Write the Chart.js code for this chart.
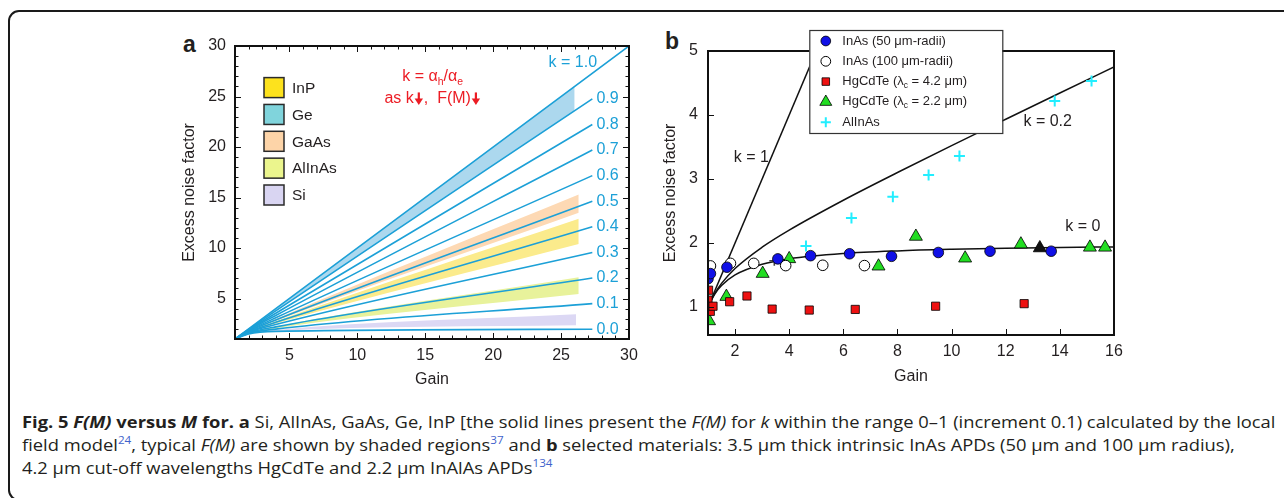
<!DOCTYPE html>
<html lang="en">
<head>
<meta charset="utf-8">
<script src="https://cdn.jsdelivr.net/npm/chart.js@4.4.1/dist/chart.umd.min.js"></script>
<style>
  html, body { margin: 0; padding: 0; background: #fff; }
  body { width: 1284px; height: 498px; position: relative; overflow: hidden;
         font-family: "Liberation Sans", Arial, sans-serif; color: #231f20; }
  #cadre { position: absolute; left: 8px; top: 10px; width: 1400px; height: 487px;
           border: 2.5px solid #1a1a1a; border-radius: 11px; }
  .bloc { position: absolute; }
  #bloc-a { left: 150px; top: 20px; width: 500px; height: 380px; }
  #bloc-b { left: 650px; top: 20px; width: 490px; height: 380px; }
  .lettre { position: absolute; font: bold 23px "Liberation Sans", Arial, sans-serif; line-height: 1; }
  #legende-fig { position: absolute; left: 22px; top: 410px; font-family: "Open Sans", sans-serif;
                 font-size: 16.5px; line-height: 23px; color: #231f20; }
  .ligne { white-space: nowrap; width: max-content; transform-origin: left center; }
  .ligne sup { color: #3f63cc; font-size: 10.5px; line-height: 0; vertical-align: 7px; }
</style>
</head>
<body>
<div id="cadre"></div>
<div class="lettre" style="left:183px; top:33px">a</div>
<div class="lettre" style="left:665px; top:30px">b</div>
<div class="bloc" id="bloc-a"><canvas id="graphique-a" width="500" height="380"></canvas></div>
<div class="bloc" id="bloc-b"><canvas id="graphique-b" width="490" height="380"></canvas></div>

<div id="legende-fig">
  <div class="ligne"><b>Fig. 5 <i>F(M)</i> versus <i>M</i> for. a</b> Si, AlInAs, GaAs, Ge, InP [the solid lines present the <i>F(M)</i> for <i>k</i> within the range 0–1 (increment 0.1) calculated by the local</div>
  <div class="ligne">field model<sup>24</sup>, typical <i>F(M)</i> are shown by shaded regions<sup>37</sup> and <b>b</b> selected materials: 3.5 μm thick intrinsic InAs APDs (50 μm and 100 μm radius),</div>
  <div class="ligne">4.2 μm cut-off wavelengths HgCdTe and 2.2 μm InAlAs APDs<sup>134</sup></div>
</div>

<script>
/* ─── Données panneau a : F(M) du modèle local, k = 0 … 1 ─────────── */
const K_VALEURS  = [0.0, 0.1, 0.2, 0.3, 0.4, 0.5, 0.6, 0.7, 0.8, 0.9, 1.0];
const GAIN_A     = [1, 2, 4, 27.3];          // k = 1.0 va jusqu'à 30
const GAIN_A_K1  = [1, 2, 4, 30];
const F_A = [
    [1, 1.50, 1.75, 1.96],
    [1, 1.55, 1.98, 4.50],
    [1, 1.60, 2.20, 7.03],
    [1, 1.65, 2.43, 9.56],
    [1, 1.70, 2.65, 12.10],
    [1, 1.75, 2.88, 14.63],
    [1, 1.80, 3.10, 17.17],
    [1, 1.85, 3.33, 19.70],
    [1, 1.90, 3.55, 22.23],
    [1, 1.95, 3.78, 24.77],
    [1, 2.00, 4.00, 30.00],
];
const TICKS_A = [5, 10, 15, 20, 25, 30];

/* Zones grisées (matériaux) : bord haut / bord bas aux gains [1, 2, 4, fin] */
const MATERIAUX_A   = ['InP', 'Ge', 'GaAs', 'AlInAs', 'Si'];
const BANDE_FIN     = [26.3, 26.0, 26.3, 26.3, 26.1];
const BANDE_HAUT    = [
    [1, 1.73, 2.76, 12.9],
    [1, 2.00, 4.00, 26.0],
    [1, 1.78, 2.99, 15.3],
    [1, 1.61, 2.23, 7.1],
    [1, 1.53, 1.89, 3.45],
];
const BANDE_BAS     = [
    [1, 1.67, 2.53, 10.4],
    [1, 1.95, 3.78, 23.6],
    [1, 1.74, 2.81, 13.5],
    [1, 1.57, 2.07, 5.45],
    [1, 1.51, 1.79, 2.35],
];
const COULEUR_BANDE   = ['#fbeb8c', '#acd8ee', '#fdd9b4', '#e8f29b', '#dcd8f4'];
const COULEUR_CARRE   = ['#fde21d', '#80d4dc', '#fdd4a8', '#ebf58d', '#d9d5f2'];

/* ─── Données panneau b : mesures ────────────────────────────────── */
const INAS50_X  = [1.0, 1.09, 1.70, 3.58, 4.79, 6.23, 7.78, 9.51, 11.42, 13.68];
const INAS50_Y  = [1.44, 1.52, 1.62, 1.75, 1.80, 1.83, 1.79, 1.85, 1.87, 1.87];
const INAS100_X = [1.09, 1.83, 2.69, 3.87, 5.24, 6.78];
const INAS100_Y = [1.64, 1.68, 1.68, 1.645, 1.65, 1.645];
const HGCDTE42_X = [1.02, 1.0, 1.085, 1.185, 1.80, 2.44, 3.37, 4.74, 6.44, 9.41, 12.68];
const HGCDTE42_Y = [1.26, 1.105, 0.93, 1.01, 1.08, 1.17, 0.965, 0.95, 0.96, 1.01, 1.05];
const HGCDTE22_X = [1.04, 1.68, 3.02, 4.0, 7.30, 8.68, 10.5, 12.56, 15.11, 15.67];
const HGCDTE22_Y = [0.78, 1.16, 1.52, 1.75, 1.635, 2.10, 1.76, 1.98, 1.93, 1.93];
const ALINAS_X  = [4.62, 6.30, 7.83, 9.15, 10.29, 13.81, 15.17];
const ALINAS_Y  = [1.95, 2.39, 2.72, 3.06, 3.36, 4.22, 4.53];
const NOIR_X    = [13.26];
const NOIR_Y    = [1.92];
const CROIX_SOMBRE_X = [3.45];
const CROIX_SOMBRE_Y = [1.72];

/* Courbes théoriques k = 1, 0.2, 0 */
const GAIN_K1   = [1, 6];
const F_K1      = [1, 6];
const GAIN_B    = [1, 1.25, 1.5, 2, 3, 4, 6, 8, 10, 12, 14, 16];
const F_K02     = [1, 1.21, 1.367, 1.6, 1.933, 2.2, 2.667, 3.1, 3.52, 3.933, 4.343, 4.75];
const F_K0      = [1, 1.2, 1.333, 1.5, 1.667, 1.75, 1.833, 1.875, 1.9, 1.917, 1.929, 1.9375];
const TICKS_BX  = [2, 4, 6, 8, 10, 12, 14, 16];
const TICKS_BY  = [1, 2, 3, 4, 5];

/* ─── Utilitaires ────────────────────────────────────────────────── */
const POLICE = '"Liberation Sans", Arial, sans-serif';
const NOIR_TXT = '#231f20';
const BLEU_K = '#1ca0d7';
const ROUGE = '#ec1c24';
Chart.defaults.font.family = POLICE;
Chart.defaults.color = NOIR_TXT;

const pts = (xs, ys) => xs.map((x, i) => ({ x, y: ys[i] }));

function morceaux(txt) {
    const out = [];
    let cur = '';
    for (let i = 0; i < txt.length; i++) {
        if (txt[i] === '_') {
            if (cur) out.push({ t: cur, sub: false });
            cur = '';
            out.push({ t: txt[i + 1], sub: true });
            i++;
        } else cur += txt[i];
    }
    if (cur) out.push({ t: cur, sub: false });
    return out;
}

// texte avec indices ("α_h" → α + h en indice)
function texteIndice(ctx, txt, x, y, taille, align) {
    const parts = morceaux(txt);
    const fN = `${taille}px ${POLICE}`, fS = `${taille * 0.65}px ${POLICE}`;
    let w = 0;
    parts.forEach(p => { ctx.font = p.sub ? fS : fN; p.w = ctx.measureText(p.t).width; w += p.w; });
    let cx = align === 'center' ? x - w / 2 : align === 'right' ? x - w : x;
    ctx.textAlign = 'left';
    ctx.textBaseline = 'middle';
    parts.forEach(p => {
        ctx.font = p.sub ? fS : fN;
        ctx.fillText(p.t, cx, y + (p.sub ? taille * 0.32 : 0));
        cx += p.w;
    });
}

function trait(ctx, x1, y1, x2, y2) {
    ctx.beginPath(); ctx.moveTo(x1, y1); ctx.lineTo(x2, y2); ctx.stroke();
}

// flèche épaisse vers le bas, haut à (x, y)
function fleche(ctx, x, y) {
    ctx.save();
    ctx.lineWidth = 2.2;
    trait(ctx, x, y, x + 0, y + 8);
    ctx.beginPath();
    ctx.moveTo(x - 4.2, y + 6);
    ctx.lineTo(x + 4.2, y + 6);
    ctx.lineTo(x, y + 12.5);
    ctx.closePath();
    ctx.fill();
    ctx.restore();
}

/* ─── Panneau a ──────────────────────────────────────────────────── */
const datasetsA = [];
K_VALEURS.forEach((k, i) => {
    const gx = k === 1.0 ? GAIN_A_K1 : GAIN_A;
    datasetsA.push({
        label: 'k = ' + k.toFixed(1),
        data: pts(gx, F_A[i]),
        borderColor: BLEU_K, borderWidth: 1.6,
        pointRadius: 0, fill: false,
        cubicInterpolationMode: 'monotone',
        order: 1,
    });
});
MATERIAUX_A.forEach((nom, i) => {
    const gx = [1, 2, 4, BANDE_FIN[i]];
    datasetsA.push({
        label: nom,
        data: pts(gx, BANDE_HAUT[i]),
        backgroundColor: COULEUR_BANDE[i], borderWidth: 0,
        pointRadius: 0, fill: '+1', cubicInterpolationMode: 'monotone', order: 2,
    });
    datasetsA.push({
        label: nom + ' (bas)',
        data: pts(gx, BANDE_BAS[i]),
        borderWidth: 0, pointRadius: 0, fill: false,
        cubicInterpolationMode: 'monotone', order: 2,
    });
});

const decorA = {
    id: 'decorA',
    afterDatasetsDraw(chart) {
        const { ctx, chartArea: ca, scales: { x, y } } = chart;
        ctx.save();
        ctx.strokeStyle = '#111';
        ctx.lineWidth = 1;
        for (let v = 2; v < 30; v++) {
            const L = v % 5 === 0 ? 6 : 3.5;
            const px = Math.round(x.getPixelForValue(v)) + 0.5;
            trait(ctx, px, ca.bottom, px, ca.bottom - L);
            trait(ctx, px, ca.top, px, ca.top + L);
            const py = Math.round(y.getPixelForValue(v)) + 0.5;
            trait(ctx, ca.left, py, ca.left + L, py);
            trait(ctx, ca.right, py, ca.right - L, py);
        }
        ctx.lineWidth = 2;
        ctx.strokeRect(ca.left, ca.top, ca.right - ca.left, ca.bottom - ca.top);

        // étiquettes k en bout de ligne
        ctx.fillStyle = BLEU_K;
        ctx.font = `16px ${POLICE}`;
        ctx.textBaseline = 'middle';
        K_VALEURS.forEach((k, i) => {
            if (k === 1.0) return;
            ctx.textAlign = 'left';
            ctx.fillText(k.toFixed(1), x.getPixelForValue(27.6), y.getPixelForValue(F_A[i][3]));
        });
        ctx.textAlign = 'right';
        ctx.fillText('k = 1.0', x.getPixelForValue(27.65), y.getPixelForValue(28.32));

        // annotation rouge
        ctx.fillStyle = ROUGE;
        ctx.strokeStyle = ROUGE;
        const cx = x.getPixelForValue(15.55);
        texteIndice(ctx, 'k = α_h/α_e', cx, y.getPixelForValue(26.94), 16, 'center');
        ctx.font = `16px ${POLICE}`;
        const t1 = 'as k', t2 = ',  F(M)';
        const w1 = ctx.measureText(t1).width, w2 = ctx.measureText(t2).width;
        const wf = 10;
        let gx = cx - (w1 + w2 + 2 * wf) / 2;
        const yl = y.getPixelForValue(24.81);
        ctx.textAlign = 'left';
        ctx.textBaseline = 'middle';
        ctx.fillText(t1, gx, yl);
        fleche(ctx, gx + w1 + wf / 2, yl - 6);
        ctx.fillText(t2, gx + w1 + wf, yl);
        fleche(ctx, gx + w1 + wf + w2 + wf / 2, yl - 6);

        // légende matériaux
        ctx.textAlign = 'left';
        MATERIAUX_A.forEach((nom, i) => {
            const yc = ca.top + 41.6 + i * 26.85;
            ctx.fillStyle = COULEUR_CARRE[i];
            ctx.fillRect(ca.left + 29, yc - 10, 20, 20);
            ctx.strokeStyle = '#2a2a2a';
            ctx.lineWidth = 1.5;
            ctx.strokeRect(ca.left + 29, yc - 10, 20, 20);
            ctx.fillStyle = NOIR_TXT;
            ctx.font = `15.5px ${POLICE}`;
            ctx.fillText(nom, ca.left + 57, yc + 1);
        });
        ctx.restore();
    },
};

new Chart(document.getElementById('graphique-a'), {
    type: 'line',
    data: { datasets: datasetsA },
    options: {
        responsive: false,
        animation: false,
        devicePixelRatio: 1,
        layout: { padding: { top: 26, right: 21, left: 0, bottom: 0 } },
        plugins: { legend: { display: false }, tooltip: { enabled: false } },
        scales: {
            x: {
                type: 'linear', min: 1, max: 30,
                grid: { display: false, drawTicks: false }, border: { display: false },
                afterBuildTicks: s => { s.ticks = TICKS_A.map(v => ({ value: v })); },
                afterFit: s => { s.height = 61; },
                ticks: { padding: 7, font: { size: 16 }, color: NOIR_TXT, maxRotation: 0 },
                title: { display: true, text: 'Gain', font: { size: 16 }, color: NOIR_TXT,
                         padding: { top: 0, bottom: 11 } },
            },
            y: {
                type: 'linear', min: 1, max: 30,
                grid: { display: false, drawTicks: false }, border: { display: false },
                afterBuildTicks: s => { s.ticks = TICKS_A.map(v => ({ value: v })); },
                afterFit: s => { s.width = 85; },
                ticks: { padding: 9, font: { size: 16 }, color: NOIR_TXT },
                title: { display: true, text: 'Excess noise factor', font: { size: 16 }, color: NOIR_TXT,
                         padding: { top: 30, bottom: 0 } },
            },
        },
    },
    plugins: [decorA],
});

/* ─── Panneau b ──────────────────────────────────────────────────── */
const courbe = (label, xs, ys) => ({
    type: 'line', label, data: pts(xs, ys), showLine: true,
    borderColor: '#111', borderWidth: 1.5, pointRadius: 0, fill: false,
    cubicInterpolationMode: 'monotone', order: 2, legende: false,
});

const datasetsB = [
    { label: 'InAs (50 μm-radii)', data: pts(INAS50_X, INAS50_Y), pointStyle: 'circle', pointRadius: 5.3,
      backgroundColor: '#1010e6', borderColor: '#000', borderWidth: 0.8, order: 1 },
    { label: 'InAs (100 μm-radii)', data: pts(INAS100_X, INAS100_Y), pointStyle: 'circle', pointRadius: 5.3,
      backgroundColor: '#fff', borderColor: '#000', borderWidth: 1, order: 1 },
    { label: 'HgCdTe (λ_c = 4.2 μm)', data: pts(HGCDTE42_X, HGCDTE42_Y), pointStyle: 'rect', pointRadius: 5.8,
      backgroundColor: '#ee1111', borderColor: '#000', borderWidth: 0.8, order: 1 },
    { label: 'HgCdTe (λ_c = 2.2 μm)', data: pts(HGCDTE22_X, HGCDTE22_Y), pointStyle: 'triangle', pointRadius: 7.5,
      backgroundColor: '#22dd22', borderColor: '#000', borderWidth: 0.8, order: 1 },
    { label: 'AlInAs', data: pts(ALINAS_X, ALINAS_Y), pointStyle: 'cross', pointRadius: 5.5,
      backgroundColor: '#22eeff', borderColor: '#22eeff', borderWidth: 2, order: 1 },
    { label: 'HgCdTe (noir)', data: pts(NOIR_X, NOIR_Y), pointStyle: 'triangle', pointRadius: 7.5,
      backgroundColor: '#111', borderColor: '#000', borderWidth: 0.8, order: 1, legende: false },
    { label: 'AlInAs (sombre)', data: pts(CROIX_SOMBRE_X, CROIX_SOMBRE_Y), pointStyle: 'cross', pointRadius: 5,
      borderColor: '#444', borderWidth: 1.6, order: 1, legende: false },
    courbe('k = 1', GAIN_K1, F_K1),
    courbe('k = 0.2', GAIN_B, F_K02),
    courbe('k = 0', GAIN_B, F_K0),
];

const decorB = {
    id: 'decorB',
    afterDatasetsDraw(chart) {
        const { ctx, chartArea: ca, scales: { x, y } } = chart;
        ctx.save();
        ctx.strokeStyle = '#111';
        ctx.lineWidth = 1;
        TICKS_BX.slice(0, -1).forEach(v => {
            const px = Math.round(x.getPixelForValue(v)) + 0.5;
            trait(ctx, px, ca.bottom, px, ca.bottom - 6);
        });
        TICKS_BY.slice(0, -1).forEach(v => {
            const py = Math.round(y.getPixelForValue(v)) + 0.5;
            trait(ctx, ca.left, py, ca.left + 6, py);
        });
        ctx.lineWidth = 2;
        ctx.strokeRect(ca.left, ca.top, ca.right - ca.left, ca.bottom - ca.top);

        ctx.fillStyle = NOIR_TXT;
        ctx.font = `16px ${POLICE}`;
        ctx.textAlign = 'center';
        ctx.textBaseline = 'middle';
        ctx.fillText('k = 1', x.getPixelForValue(2.6), y.getPixelForValue(3.34));
        ctx.fillText('k = 0.2', x.getPixelForValue(13.55), y.getPixelForValue(3.89));
        ctx.fillText('k = 0', x.getPixelForValue(14.85), y.getPixelForValue(2.25));
        ctx.restore();
    },
    afterDraw(chart) {
        // légende encadrée, à cheval sur le bord haut
        const { ctx, chartArea: ca } = chart;
        const bx = ca.left + 101.3, by = ca.top - 21, bw = 193, bh = 103;
        ctx.save();
        ctx.fillStyle = '#fff';
        ctx.fillRect(bx, by, bw, bh);
        ctx.strokeStyle = '#333';
        ctx.lineWidth = 1.2;
        ctx.strokeRect(bx + 0.5, by + 0.5, bw, bh);
        const items = chart.data.datasets.filter(d => d.legende !== false);
        items.forEach((d, i) => {
            const yc = by + 11 + i * 20.3;
            const mx = bx + 16.5;
            ctx.fillStyle = d.backgroundColor || d.borderColor;
            ctx.strokeStyle = d.borderColor;
            ctx.lineWidth = d.borderWidth;
            Chart.helpers.drawPoint(ctx, { pointStyle: d.pointStyle, radius: d.pointRadius * 0.92, rotation: 0,
                                           borderWidth: d.borderWidth }, mx, yc);
            ctx.fillStyle = NOIR_TXT;
            texteIndice(ctx, d.label, bx + 33, yc, 13, 'left');
        });
        ctx.restore();
    },
};

new Chart(document.getElementById('graphique-b'), {
    type: 'scatter',
    data: { datasets: datasetsB },
    options: {
        responsive: false,
        animation: false,
        devicePixelRatio: 1,
        layout: { padding: { top: 31, right: 26, left: 0, bottom: 0 } },
        plugins: { legend: { display: false }, tooltip: { enabled: false } },
        scales: {
            x: {
                type: 'linear', min: 1, max: 16,
                grid: { display: false, drawTicks: false }, border: { display: false },
                afterBuildTicks: s => { s.ticks = TICKS_BX.map(v => ({ value: v })); },
                afterFit: s => { s.height = 65; },
                ticks: { padding: 7, font: { size: 16 }, color: NOIR_TXT, maxRotation: 0 },
                title: { display: true, text: 'Gain', font: { size: 16 }, color: NOIR_TXT,
                         padding: { top: 0, bottom: 14 } },
            },
            y: {
                type: 'linear', min: 0.56, max: 5,
                grid: { display: false, drawTicks: false }, border: { display: false },
                afterBuildTicks: s => { s.ticks = TICKS_BY.map(v => ({ value: v })); },
                afterFit: s => { s.width = 58; },
                ticks: { padding: 10, font: { size: 16 }, color: NOIR_TXT },
                title: { display: true, text: 'Excess noise factor', font: { size: 16 }, color: NOIR_TXT,
                         padding: { top: 11, bottom: 0 } },
            },
        },
    },
    plugins: [decorB],
});

/* ─── Légende de la figure : ajustée à la largeur ───────────────── */
function ajusterLegende() {
    const lignes = document.querySelectorAll('#legende-fig .ligne');
    const s = 1254 / lignes[0].offsetWidth;   // offsetWidth ignore la transformation
    lignes.forEach(l => { l.style.transform = `scaleX(${s})`; });
}
ajusterLegende();
if (document.fonts) document.fonts.ready.then(ajusterLegende);
</script>
</body>
</html>
